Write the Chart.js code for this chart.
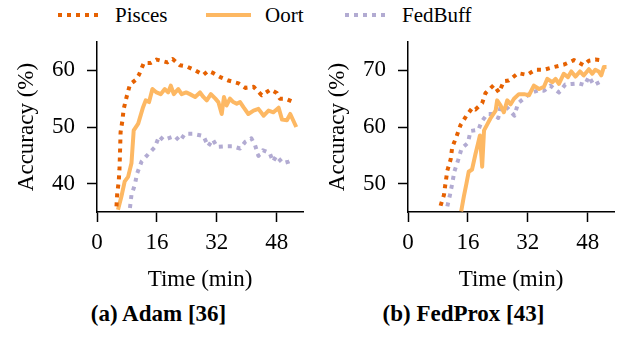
<!DOCTYPE html>
<html>
<head>
<meta charset="utf-8">
<script src="https://cdn.jsdelivr.net/npm/chart.js@4.4.1/dist/chart.umd.min.js"></script>
<style>
  body { margin: 0; width: 623px; height: 339px; background: #fff; position: relative; overflow: hidden;
         font-family: "Liberation Serif", "DejaVu Serif", serif; color: #000; }
  canvas { position: absolute; top: 0; }
  .leg-line { position: absolute; top: 13px; height: 4px; }
  .leg-text { position: absolute; top: 2px; font-size: 21px; line-height: 26px; }
  .caption { position: absolute; top: 301px; font-size: 23px; font-weight: bold; width: 311px; text-align: center; }
</style>
</head>
<body>
<div class="leg-line" style="left:58px;width:42px;background:repeating-linear-gradient(to right,#e66101 0 4px,transparent 4px 9px)"></div>
<div class="leg-text" style="left:115px">Pisces</div>
<div class="leg-line" style="left:206px;width:45px;background:#fdb863"></div>
<div class="leg-text" style="left:265px">Oort</div>
<div class="leg-line" style="left:345px;width:42px;background:repeating-linear-gradient(to right,#b2abd2 0 4px,transparent 4px 9px)"></div>
<div class="leg-text" style="left:402px">FedBuff</div>

<canvas id="adamChart" width="311" height="300" style="left:0"></canvas>
<canvas id="proxChart" width="311" height="300" style="left:311px"></canvas>
<div class="caption" style="left:3px">(a) Adam [36]</div>
<div class="caption" style="left:308px">(b) FedProx [43]</div>

<script>
// ---- (a) Adam ----
const adamPiscesTime = [5.2, 5.4, 5.8, 6.0, 6.1, 6.2, 6.3, 6.8, 7.1, 7.9, 8.8, 10.3, 11.2, 12.5, 14.3, 15.9, 18.8, 20.2, 22.1, 23.9, 25.9, 28.4, 29.7, 31.1, 32.9, 35.1, 37.8, 39.6, 41.8, 44.0, 46.3, 48.0, 48.8, 50.3, 52.1];
const adamPiscesAcc = [36.0, 38.3, 40.4, 42.5, 44.6, 46.8, 49.1, 51.2, 53.1, 55.3, 57.5, 58.3, 59.2, 61.3, 61.3, 61.9, 61.4, 62.0, 60.9, 60.7, 60.1, 59.2, 59.9, 59.5, 58.8, 58.2, 57.7, 56.9, 57.1, 55.6, 56.6, 56.0, 55.0, 55.0, 54.5];

const adamOortTime = [5.6, 6.5, 7.4, 8.3, 9.2, 9.8, 11.0, 12.3, 13.0, 13.9, 14.8, 15.9, 17.0, 18.1, 19.0, 19.7, 20.5, 21.7, 22.6, 23.8, 24.8, 26.2, 27.5, 28.4, 29.3, 30.4, 31.6, 32.4, 33.3, 33.9, 34.6, 35.5, 36.4, 37.3, 38.2, 39.1, 40.4, 41.8, 43.1, 44.5, 45.8, 47.1, 48.5, 49.4, 50.7, 51.6, 53.2];
const adamOortAcc = [35.4, 37.7, 40.4, 41.2, 43.6, 49.4, 50.6, 53.5, 54.7, 54.4, 56.7, 56.1, 55.8, 56.7, 56.1, 57.3, 55.8, 56.7, 55.8, 56.1, 55.8, 55.3, 56.1, 55.3, 54.7, 55.8, 55.0, 54.4, 52.3, 55.3, 53.8, 55.0, 54.4, 54.1, 54.4, 53.5, 52.3, 52.9, 53.2, 52.0, 52.9, 52.6, 53.4, 51.3, 51.2, 52.3, 50.0];

const adamFedBuffTime = [8.8, 9.2, 10.1, 10.7, 11.9, 13.8, 15.4, 16.6, 17.7, 19.0, 20.8, 22.1, 23.5, 25.7, 28.4, 29.7, 30.9, 32.1, 34.2, 36.2, 38.2, 39.6, 41.2, 42.2, 43.1, 44.3, 46.1, 47.0, 47.9, 49.6, 51.2, 52.5];
const adamFedBuffAcc = [35.7, 38.0, 39.8, 41.8, 43.9, 45.3, 46.4, 48.4, 47.7, 48.0, 48.4, 47.5, 48.8, 48.8, 48.4, 46.6, 47.8, 46.5, 46.6, 46.6, 46.2, 47.4, 48.0, 46.8, 44.9, 45.9, 45.4, 43.9, 44.9, 43.6, 43.9, 44.3];

// ---- (b) FedProx ----
const proxPiscesTime = [8.7, 9.6, 10.0, 10.5, 11.4, 11.8, 13.0, 14.0, 15.6, 17.2, 18.0, 19.8, 20.7, 22.9, 24.3, 25.6, 26.9, 29.4, 31.8, 34.0, 36.3, 38.5, 41.6, 44.3, 46.9, 48.3, 50.0, 52.3];
const proxPiscesAcc = [46.1, 48.0, 50.0, 52.3, 54.3, 56.4, 58.4, 60.3, 62.0, 63.4, 63.1, 64.2, 66.0, 67.4, 66.1, 68.1, 68.2, 69.5, 69.2, 70.1, 70.1, 70.5, 71.0, 71.8, 70.9, 71.7, 71.9, 71.7];

const proxOortTime = [14.2, 14.9, 15.6, 16.2, 17.1, 18.0, 18.7, 19.2, 19.8, 20.3, 21.2, 22.0, 23.4, 23.8, 24.7, 25.6, 26.5, 27.4, 28.3, 29.6, 31.0, 32.3, 33.6, 35.0, 36.3, 37.2, 38.5, 39.4, 40.3, 41.6, 42.7, 43.6, 44.7, 45.9, 46.9, 48.3, 49.2, 50.0, 50.9, 51.6, 52.3, 53.0];
const proxOortAcc = [45.1, 47.7, 50.0, 52.1, 52.5, 55.2, 57.1, 58.5, 53.0, 59.4, 60.5, 61.5, 62.9, 64.7, 63.8, 62.6, 64.7, 64.0, 65.0, 65.8, 65.8, 65.6, 67.3, 66.7, 67.1, 68.5, 67.9, 68.5, 67.6, 69.4, 68.8, 69.8, 68.9, 69.8, 69.1, 70.2, 69.4, 70.1, 69.8, 69.1, 70.6, 70.6];

const proxFedBuffTime = [10.5, 11.2, 11.8, 12.4, 13.4, 14.3, 16.0, 16.7, 18.8, 19.6, 21.2, 22.8, 24.1, 24.7, 26.5, 28.4, 29.4, 31.4, 32.7, 35.0, 36.3, 38.0, 40.3, 42.0, 43.8, 45.6, 47.2, 48.3, 49.6, 52.3];
const proxFedBuffAcc = [46.0, 48.0, 50.0, 52.2, 54.2, 56.2, 57.2, 59.3, 59.5, 60.9, 62.3, 62.3, 61.6, 63.5, 63.4, 62.0, 64.2, 65.3, 66.0, 66.5, 66.4, 67.3, 66.1, 67.5, 67.6, 67.7, 67.4, 68.9, 67.4, 68.3];

const timeTicks = [0, 16, 32, 48];
const adamAccTicks = [40, 50, 60];
const proxAccTicks = [50, 60, 70];

const colors = { pisces: '#e66101', oort: '#fdb863', fedbuff: '#b2abd2' };
const FONT = '"Liberation Serif", "Times New Roman", serif';

function pts(xs, ys) {
    return xs.map((x, i) => ({ x: x, y: ys[i] }));
}

function makeChart(id, series, yMin, yMax, yTicks) {
    const ctx = document.getElementById(id).getContext('2d');
    new Chart(ctx, {
        type: 'line',
        data: {
            datasets: [
                { label: 'Pisces', data: pts(series[0], series[1]), borderColor: colors.pisces,
                  borderWidth: 4, borderDash: [4, 5], order: 1 },
                { label: 'Oort', data: pts(series[2], series[3]), borderColor: colors.oort,
                  borderWidth: 4, order: 2 },
                { label: 'FedBuff', data: pts(series[4], series[5]), borderColor: colors.fedbuff,
                  borderWidth: 4, borderDash: [4, 5], order: 3 }
            ]
        },
        options: {
            responsive: false,
            animation: false,
            devicePixelRatio: 1,
            elements: { point: { radius: 0 }, line: { tension: 0, borderCapStyle: 'butt', borderJoinStyle: 'round', fill: false } },
            layout: { padding: { top: 42, right: 8, left: 0, bottom: 0 } },
            plugins: { legend: { display: false }, tooltip: { enabled: false } },
            scales: {
                x: {
                    type: 'linear', min: 0, max: 55,
                    afterBuildTicks: axis => { axis.ticks = timeTicks.map(v => ({ value: v })); },
                    afterFit: axis => { axis.height = 88; },
                    border: { color: '#000', width: 1.5 },
                    grid: { drawOnChartArea: false, drawTicks: true, tickLength: 10, tickColor: '#000', tickWidth: 1.5 },
                    ticks: { color: '#000', padding: 7, font: { family: FONT, size: 23 }, maxRotation: 0 },
                    title: { display: true, text: 'Time (min)', color: '#000', font: { family: FONT, size: 23 },
                             padding: { top: 0, bottom: 6 } }
                },
                y: {
                    min: yMin, max: yMax,
                    afterBuildTicks: axis => { axis.ticks = yTicks.map(v => ({ value: v })); },
                    afterFit: axis => { axis.width = 97; },
                    border: { color: '#000', width: 1.5 },
                    grid: { drawOnChartArea: false, drawTicks: true, tickLength: 10, tickColor: '#000', tickWidth: 1.5 },
                    ticks: { color: '#000', padding: 12, font: { family: FONT, size: 23 } },
                    title: { display: true, text: 'Accuracy (%)', color: '#000', font: { family: FONT, size: 23 },
                             padding: { top: 13, bottom: 0 } }
                }
            }
        }
    });
}

makeChart('adamChart',
    [adamPiscesTime, adamPiscesAcc, adamOortTime, adamOortAcc, adamFedBuffTime, adamFedBuffAcc],
    35, 65, adamAccTicks);
makeChart('proxChart',
    [proxPiscesTime, proxPiscesAcc, proxOortTime, proxOortAcc, proxFedBuffTime, proxFedBuffAcc],
    45, 75, proxAccTicks);
</script>
</body>
</html>
